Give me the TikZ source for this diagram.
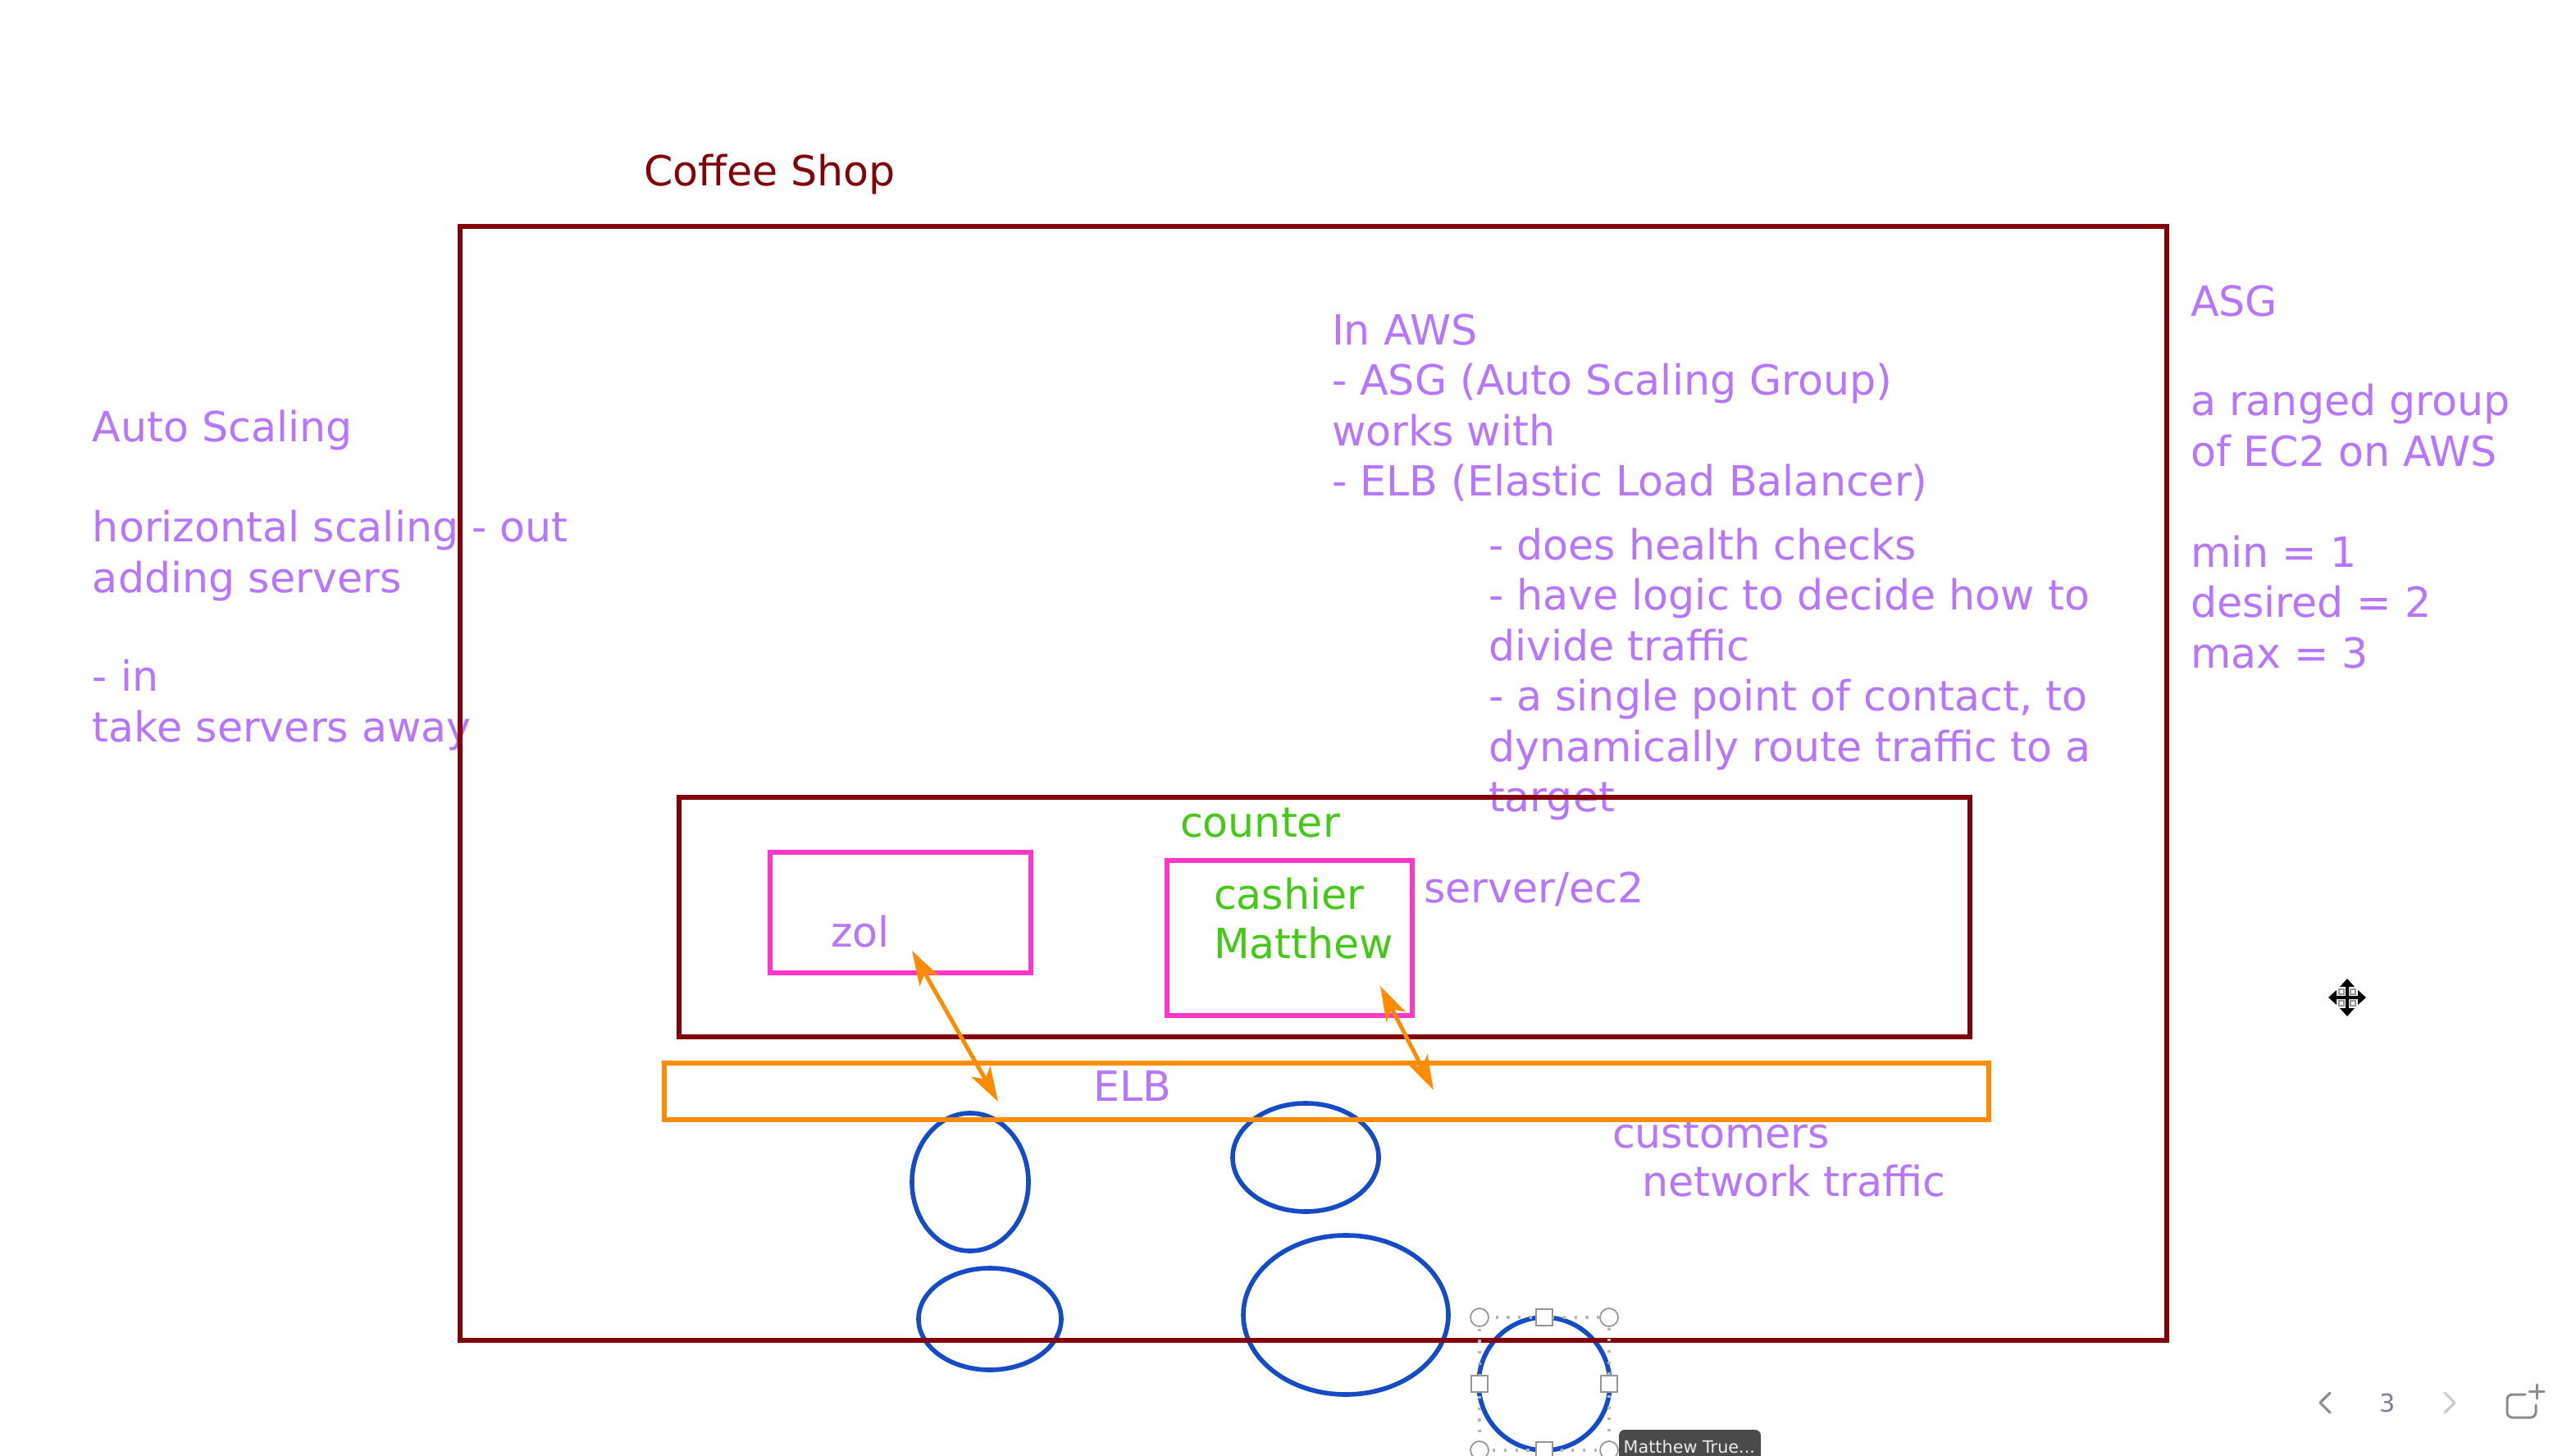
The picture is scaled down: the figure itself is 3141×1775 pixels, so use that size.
\documentclass[tikz,border=0pt]{standalone}
\usepackage{fontspec}
\setmainfont{DejaVu Sans}
\usetikzlibrary{arrows.meta,fit}
\definecolor{shopred}{RGB}{130,0,10}
\definecolor{txtpurple}{RGB}{182,118,255}
\definecolor{txtgreen}{RGB}{70,200,25}
\definecolor{boxpink}{RGB}{255,55,200}
\definecolor{elborange}{RGB}{255,140,0}
\definecolor{custblue}{RGB}{22,75,198}
\definecolor{handlegray}{RGB}{150,150,150}
\definecolor{tipgray}{RGB}{74,74,74}
\definecolor{navgray}{RGB}{140,140,140}
\tikzset{
  lbl/.style={anchor=base west, inner sep=0pt, outer sep=0pt, font=\fontsize{14.4pt}{17.6pt}\selectfont},
  ptxt/.style={lbl, text=txtpurple},
  gtxt/.style={lbl, text=txtgreen},
  redbox/.style={draw=shopred, line width=1.7pt, inner sep=0pt, fit=#1},
  pinkbox/.style={draw=boxpink, line width=1.7pt, inner sep=0pt, fit=#1},
  elbbox/.style={draw=elborange, line width=1.7pt, inner sep=0pt, fit=#1},
  cust/.style={draw=custblue, line width=1.6pt},
  dbl/.style={draw=elborange, line width=1.4pt,
    {Stealth[length=12pt,width=7.5pt,inset=3pt]}-{Stealth[length=12pt,width=7.5pt,inset=3pt]}},
  handlec/.style={draw=handlegray, fill=white, line width=0.5pt},
}
\begin{document}
\begin{tikzpicture}[x=0.01cm,y=-0.01cm]
\useasboundingbox (0,0) rectangle (3141,1775);
\clip (0,0) rectangle (3141,1775);
\fill[white] (0,0) rectangle (3141,1775);

% ---------- texts ----------
\node[lbl, text=shopred] (shop) at (785,226) {Coffee Shop};

\node[ptxt] (l1) at (113,538) {Auto Scaling};
\node[ptxt] (l2) at (113,660) {horizontal scaling - out};
\node[ptxt] (l3) at (113,722) {adding servers};
\node[ptxt] (l4) at (113,842) {- in};
\node[ptxt] (l5) at (113,904) {take servers away};

\node[ptxt] (a1) at (1624,420) {In AWS};
\node[ptxt] (a2) at (1624,481) {- ASG (Auto Scaling Group)};
\node[ptxt] (a3) at (1624,543) {works with};
\node[ptxt] (a4) at (1624,604) {- ELB (Elastic Load Balancer)};
\node[ptxt] (a5) at (1815,682) {- does health checks};
\node[ptxt] (a6) at (1815,743) {- have logic to decide how to};
\node[ptxt] (a7) at (1815,805) {divide traffic};
\node[ptxt] (a8) at (1815,866) {- a single point of contact, to};
\node[ptxt] (a9) at (1815,928) {dynamically route traffic to a};
\node[ptxt] (a10) at (1815,989) {target};

\node[ptxt] (r1) at (2671,385) {ASG};
\node[ptxt] (r2) at (2671,506) {a ranged group};
\node[ptxt] (r3) at (2671,568) {of EC2 on AWS};
\node[ptxt] (r4) at (2671,691) {min = 1};
\node[ptxt] (r5) at (2671,752) {desired = 2};
\node[ptxt] (r6) at (2671,814) {max = 3};

\node[gtxt] (counter) at (1439,1020) {counter};
\node[ptxt] (zol) at (1013,1154) {zol};
\node[gtxt] (cashier) at (1480,1108) {cashier};
\node[gtxt] (matthew) at (1480,1168) {Matthew};
\node[ptxt] (server) at (1736,1100) {server/ec2};
\node[ptxt] (elbt) at (1333,1342) {ELB};
\node[ptxt] (cust1) at (1966,1399) {customers};
\node[ptxt] (cust2) at (2002,1458) {network traffic};

% ---------- customers (ellipses) ----------
\draw[cust] (1183,1441) circle[x radius=71, y radius=84];
\draw[cust] (1592,1411) circle[x radius=89, y radius=66];
\draw[cust] (1207,1608) circle[x radius=87, y radius=62];
\draw[cust] (1641,1603) circle[x radius=125, y radius=97];
\draw[cust] (1883,1687) circle[x radius=80, y radius=81];

% ---------- boxes ----------
\coordinate (shopNW) at (561,276);   \coordinate (shopSE) at (2642,1634);
\coordinate (cntNW) at (828,972);    \coordinate (cntSE) at (2402,1264);
\coordinate (zolNW) at (939,1039);   \coordinate (zolSE) at (1257,1186);
\coordinate (casNW) at (1423,1049);  \coordinate (casSE) at (1722,1238);
\coordinate (elbNW) at (810,1296);   \coordinate (elbSE) at (2425,1365);
\node[redbox={(shopNW)(shopSE)}] (shopbox) {};
\node[redbox={(cntNW)(cntSE)}] (counterbox) {};
\node[pinkbox={(zolNW)(zolSE)}] (zolbox) {};
\node[pinkbox={(casNW)(casSE)}] (cashbox) {};
\node[elbbox={(elbNW)(elbSE)}] (elbbox) {};

% ---------- arrows ----------
\coordinate (zA) at (1112,1159);  \coordinate (zB) at (1217,1343);
\coordinate (cA) at (1683,1202);  \coordinate (cB) at (1748,1329);
\draw[dbl] (zA) -- (zB);
\draw[dbl] (cA) -- (cB);

% ---------- selection handles ----------
\draw[handlegray!70, line width=0.9pt, dash pattern=on 0.9pt off 3pt] (1804,1606) rectangle (1962,1768);
\draw[handlec] (1804,1606) circle[radius=11];
\draw[handlec] (1962,1606) circle[radius=11];
\draw[handlec] (1804,1768) circle[radius=11];
\draw[handlec] (1962,1768) circle[radius=11];
\draw[handlec] (1873,1596) rectangle (1893,1616);
\draw[handlec] (1794,1677) rectangle (1814,1697);
\draw[handlec] (1952,1677) rectangle (1972,1697);
\draw[handlec] (1873,1758) rectangle (1893,1778);

% ---------- tooltip ----------
\fill[tipgray, rounded corners=2pt] (1974,1743) rectangle (2147,1800);
\node[anchor=base west, inner sep=0pt, text=white!92!black, font=\fontsize{5.9pt}{7pt}\selectfont] (tip) at (1979,1771) {Matthew True...};

% ---------- move cursor ----------
\begin{scope}[shift={(2862,1216)}]
  \draw[white, line width=1.6pt, line join=round]
    (23,0)--(13,-9)--(13,-2)--(2,-2)--(2,-13)--(9,-13)--(0,-23)--(-9,-13)--(-2,-13)--(-2,-2)--(-13,-2)--(-13,-9)--(-23,0)
    --(-13,9)--(-13,2)--(-2,2)--(-2,13)--(-9,13)--(0,23)--(9,13)--(2,13)--(2,2)--(13,2)--(13,9)--cycle;
  \fill[black]
    (23,0)--(13,-9)--(13,-2)--(2,-2)--(2,-13)--(9,-13)--(0,-23)--(-9,-13)--(-2,-13)--(-2,-2)--(-13,-2)--(-13,-9)--(-23,0)
    --(-13,9)--(-13,2)--(-2,2)--(-2,13)--(-9,13)--(0,23)--(9,13)--(2,13)--(2,2)--(13,2)--(13,9)--cycle;
  \draw[handlegray, line width=0.4pt] (4,4) rectangle (10,10);
  \draw[handlegray, line width=0.4pt] (-4,4) rectangle (-10,10);
  \draw[handlegray, line width=0.4pt] (4,-4) rectangle (10,-10);
  \draw[handlegray, line width=0.4pt] (-4,-4) rectangle (-10,-10);
\end{scope}

% ---------- page navigation ----------
\draw[navgray, line width=0.9pt, line cap=round, line join=round] (2841,1698)--(2829,1710)--(2841,1722);
\node[inner sep=0pt, text=navgray!90!blue, font=\fontsize{8.6pt}{10pt}\selectfont] (pagenum) at (2911,1710) {3};
\draw[navgray!45, line width=0.9pt, line cap=round, line join=round] (2981,1698)--(2993,1710)--(2981,1722);
\draw[navgray, line width=0.85pt, rounded corners=1.8pt, line cap=round] (3079,1700)--(3057,1700)--(3057,1728)--(3092,1728)--(3092,1713);
\draw[navgray, line width=0.85pt, line cap=round] (3093,1688)--(3093,1705);
\draw[navgray, line width=0.85pt, line cap=round] (3084,1696)--(3102,1696);
\end{tikzpicture}
\end{document}
